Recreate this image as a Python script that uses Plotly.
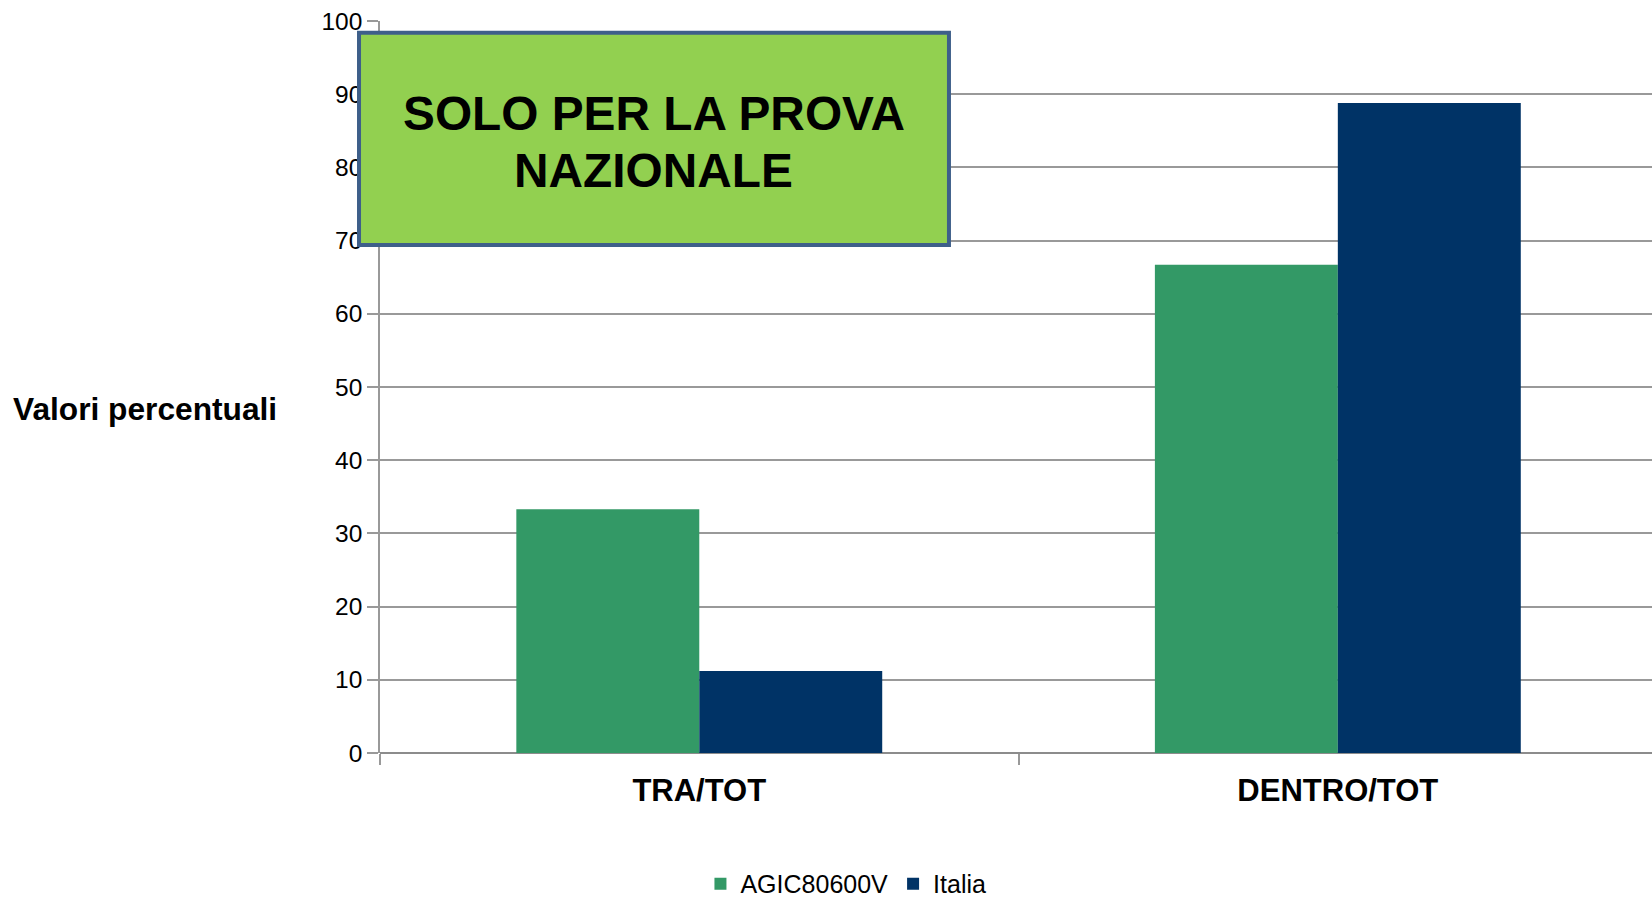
import plotly.graph_objects as go

categories = ["TRA/TOT", "DENTRO/TOT"]
agic_values = [33.3, 66.7]
italia_values = [11.2, 88.8]
series_names = ["AGIC80600V", "Italia"]
y_ticks = [0, 10, 20, 30, 40, 50, 60, 70, 80, 90, 100]
box_lines = ["SOLO PER LA PROVA", "NAZIONALE"]

FONT = "Liberation Sans, Arial, sans-serif"
GREEN = "#339966"
NAVY = "#003366"
GRID = "#999999"

fig = go.Figure()
fig.add_trace(go.Bar(x=categories, y=agic_values, name=series_names[0],
                     marker=dict(color=GREEN, line=dict(width=0))))
fig.add_trace(go.Bar(x=categories, y=italia_values, name=series_names[1],
                     marker=dict(color=NAVY, line=dict(width=0))))

fig.update_layout(
    width=1652, height=897,
    margin=dict(l=380, r=0, t=21, b=144, pad=0),
    paper_bgcolor="white", plot_bgcolor="white",
    barmode="group", bargap=0.427, bargroupgap=0,
    font=dict(family=FONT, color="black"),
    showlegend=True,
    legend=dict(orientation="h", xref="container", yref="container",
                x=0.424, xanchor="left", y=0.0145, yanchor="middle",
                font=dict(size=25, family=FONT, color="black"),
                bgcolor="rgba(0,0,0,0)", itemclick=False),
)

fig.update_xaxes(
    type="category", range=[-0.5, 1.492],
    showline=False, showgrid=False, zeroline=False,
    ticks="outside", tickson="boundaries", ticklen=11, tickwidth=2, tickcolor=GRID,
    tickfont=dict(size=31, family=FONT, color="black", weight="bold"),
    ticklabelstandoff=16,
)
fig.update_yaxes(
    range=[0, 100], tickvals=y_ticks,
    showline=True, linecolor=GRID, linewidth=1.5,
    showgrid=True, gridcolor=GRID, gridwidth=1.5,
    zeroline=True, zerolinecolor="#8c8c8c", zerolinewidth=2,
    ticks="outside", ticklen=11, tickwidth=1.5, tickcolor=GRID,
    tickfont=dict(size=24.5, family=FONT, color="black"),
)

# Y axis title (horizontal)
fig.add_annotation(text="<b>Valori percentuali</b>", xref="paper", yref="paper",
                   x=-0.1847, y=0.47, xanchor="center", yanchor="middle",
                   showarrow=False, font=dict(size=31.7, family=FONT, color="black"))

# Green overlay box
fig.add_shape(type="rect", xref="paper", yref="y",
              x0=-0.0165, x1=0.4473, y0=69.4, y1=98.4,
              fillcolor="#92d050", line=dict(color="#3e5f8a", width=4), layer="above")
for line_text, y_val in zip(box_lines, [87.4, 79.6]):
    fig.add_annotation(text="<b>" + line_text + "</b>", xref="paper", yref="y",
                       x=0.2154, y=y_val, xanchor="center", yanchor="middle",
                       showarrow=False, font=dict(size=47.8, family=FONT, color="black"))

fig.write_html("out.html", config={"displayModeBar": False},
               post_script="document.body.style.margin='0px';document.body.style.overflow='hidden';")
